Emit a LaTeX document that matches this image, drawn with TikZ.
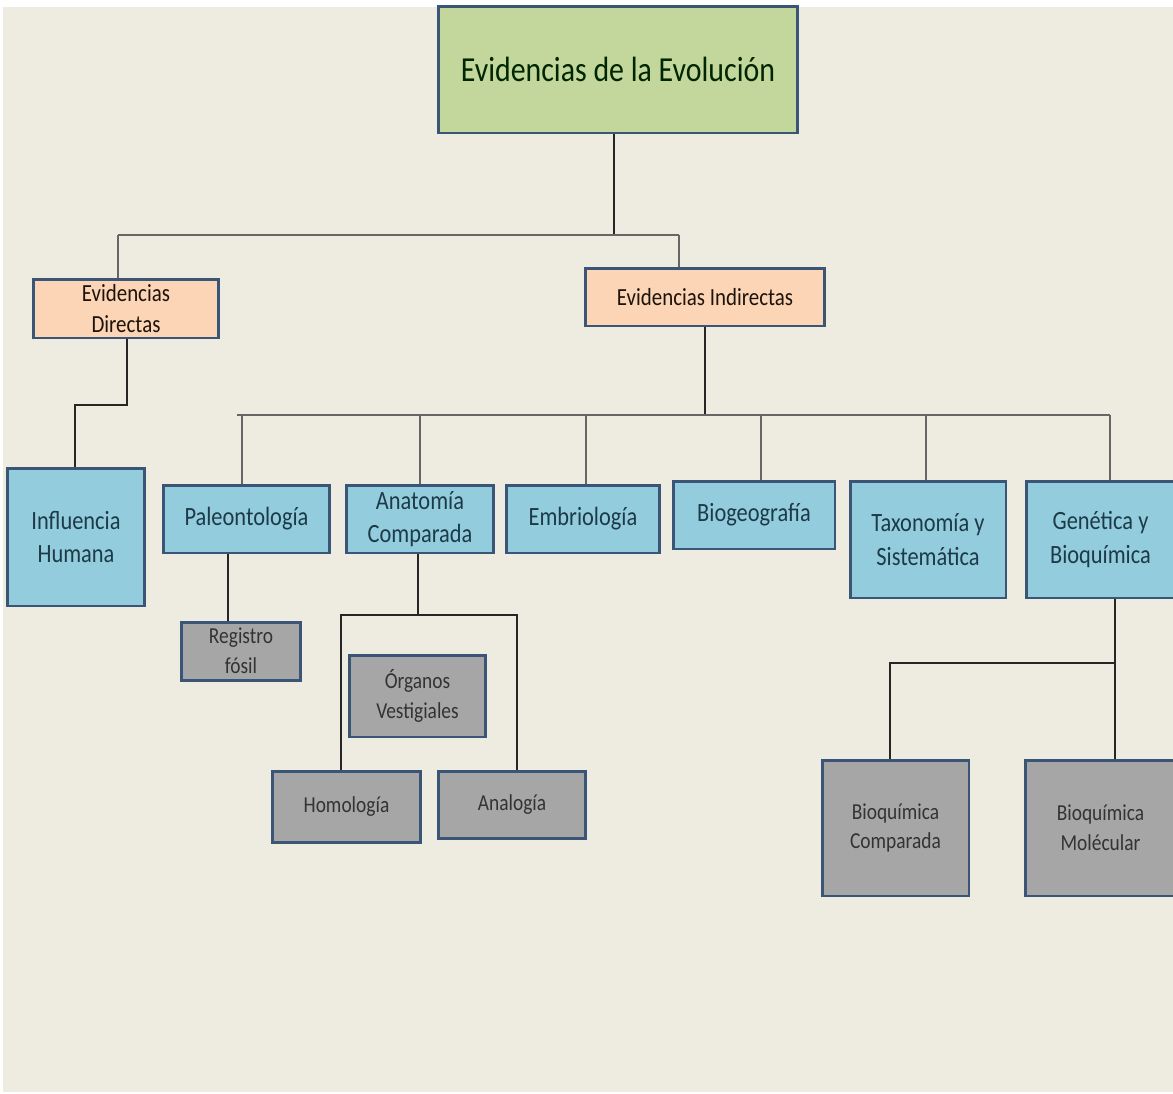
\documentclass[tikz,border=0pt]{standalone}
\usepackage{xcolor}
\usepackage{fontspec}
\setmainfont{Carlito}[FakeStretch=0.85]
\definecolor{pagetan}{HTML}{EEECE1}
\definecolor{titlegreen}{HTML}{C3D69B}
\definecolor{branchpeach}{HTML}{FBD5B5}
\definecolor{fieldblue}{HTML}{93CDDD}
\definecolor{leafgrey}{HTML}{A6A6A6}
\definecolor{edgeslate}{HTML}{3B5577}
\definecolor{fieldtext}{HTML}{1D3A48}

\tikzset{
  box/.style={draw=edgeslate, line width=1.7pt, align=center, inner sep=0pt},
  titlebox/.style={box, fill=titlegreen, text=black!85!green, font=\fontsize{20}{24}\selectfont},
  branchbox/.style={box, fill=branchpeach, text=black!85!brown, font=\fontsize{14}{17.5}\selectfont},
  fieldbox/.style={box, fill=fieldblue, text=fieldtext, font=\fontsize{15}{19}\selectfont},
  leafbox/.style={box, fill=leafgrey, text=black!80, font=\fontsize{13}{17}\selectfont},
  conn/.style={black!85, line width=1.1pt},
  bar/.style={black!60, line width=0.9pt}
}

\begin{document}
\begin{tikzpicture}[x=0.02cm, y=-0.02cm]
  \useasboundingbox (0,0) rectangle (1173,1093);
  \fill[pagetan] (3,7) rectangle (1173,1092);
  % Nodes
  \node[titlebox, minimum width=7.2cm, minimum height=2.54cm] (evol) at (618,69.5) {Evidencias de la Evolución};
  \node[branchbox, minimum width=3.72cm, minimum height=1.18cm] (dir) at (126,308.5) {Evidencias\\Directas};
  \node[branchbox, minimum width=4.8cm, minimum height=1.16cm] (ind) at (705,297) {Evidencias Indirectas};
  \node[fieldbox, minimum width=2.76cm, minimum height=2.76cm] (hum) at (76,537) {Influencia\\Humana};
  \node[fieldbox, minimum width=3.34cm, minimum height=1.36cm] (pal) at (246.5,519) {Paleontología};
  \node[fieldbox, minimum width=2.96cm, minimum height=1.36cm] (ana) at (420,519) {Anatomía\\Comparada};
  \node[fieldbox, minimum width=3.08cm, minimum height=1.36cm] (emb) at (583,519) {Embriología};
  \node[fieldbox, minimum width=3.24cm, minimum height=1.36cm] (bgeo) at (754,515) {Biogeografía};
  \node[fieldbox, minimum width=3.12cm, minimum height=2.34cm] (tax) at (928,539.5) {Taxonomía y\\Sistemática};
  \node[fieldbox, minimum width=2.98cm, minimum height=2.34cm] (gen) at (1100.5,539.5) {Genética y\\Bioquímica};
  \node[leafbox, minimum width=2.4cm, minimum height=1.16cm] (reg) at (241,651) {Registro\\fósil};
  \node[leafbox, minimum width=2.74cm, minimum height=1.64cm] (org) at (417.5,696) {Órganos\\Vestigiales};
  \node[leafbox, minimum width=2.98cm, minimum height=1.42cm] (hom) at (346.5,806.5) {Homología};
  \node[leafbox, minimum width=2.96cm, minimum height=1.34cm] (anl) at (512,804.5) {Analogía};
  \node[leafbox, minimum width=2.94cm, minimum height=2.72cm] (bqc) at (895.5,828) {Bioquímica\\Comparada};
  \node[leafbox, minimum width=3.02cm, minimum height=2.72cm] (bqm) at (1100.5,828) {Bioquímica\\Molécular};
  % Connections
  \coordinate (topbar-l) at (118,235);
  \coordinate (topbar-m) at (614,235);
  \coordinate (topbar-r) at (679,235);
  \draw[conn] (evol.south -| topbar-m) -- (topbar-m);
  \draw[bar] (topbar-l) -- (topbar-r);
  \draw[bar] (topbar-l) -- (topbar-l |- dir.north);
  \draw[bar] (topbar-r) -- (topbar-r |- ind.north);
  \coordinate (dirbend) at (127,405);
  \coordinate (humbend) at (75,405);
  \draw[conn] (dirbend |- dir.south) -- (dirbend) -- (humbend) -- (humbend |- hum.north);
  \coordinate (rowbar-l) at (237,415);
  \coordinate (rowbar-r) at (1110,415);
  \draw[conn] (ind.south) -- (ind.south |- rowbar-l);
  \draw[bar] (rowbar-l) -- (rowbar-r);
  \foreach \f/\x in {pal/242, ana/420, emb/586, bgeo/761, tax/926, gen/1110} {
    \coordinate (drop) at (\x,415);
    \draw[bar] (drop) -- (drop |- \f.north);
  }
  \coordinate (regdrop) at (228,600);
  \draw[conn] (regdrop |- pal.south) -- (regdrop |- reg.north);
  \coordinate (anabend) at (418,615);
  \coordinate (homdrop) at (341,615);
  \coordinate (anldrop) at (517,615);
  \draw[conn] (anabend |- ana.south) -- (anabend);
  \draw[conn] (homdrop |- hom.north) -- (homdrop) -- (anldrop) -- (anldrop |- anl.north);
  \coordinate (genbend) at (1115,663);
  \coordinate (bqcdrop) at (890,663);
  \draw[conn] (genbend |- gen.south) -- (genbend |- bqm.north);
  \draw[conn] (genbend) -- (bqcdrop) -- (bqcdrop |- bqc.north);
\end{tikzpicture}
\end{document}
